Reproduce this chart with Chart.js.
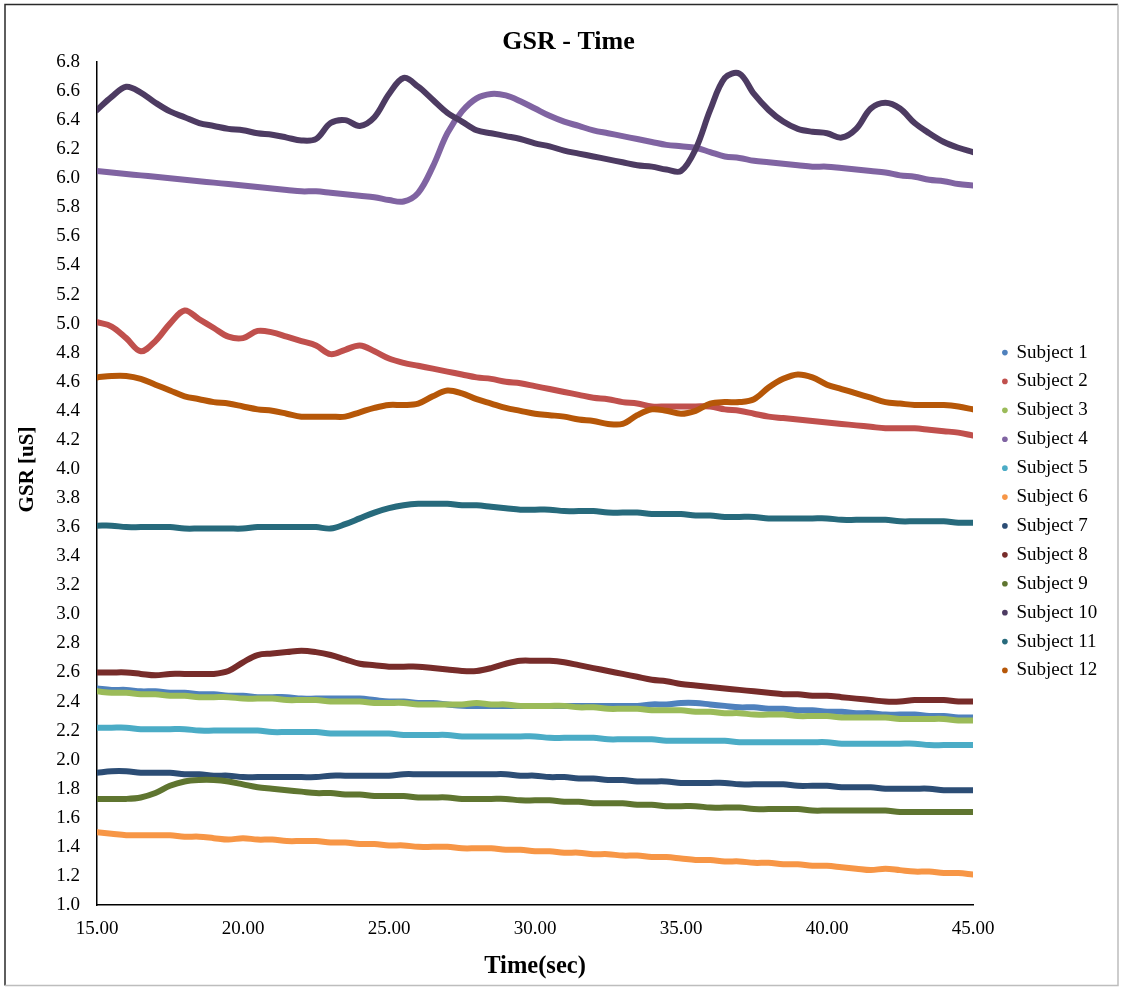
<!DOCTYPE html>
<html>
<head>
<meta charset="utf-8">
<script src="https://cdn.jsdelivr.net/npm/chart.js@4.4.0/dist/chart.umd.min.js"></script>
<style>
html,body{margin:0;padding:0;background:#fff;}
canvas{display:block;}
</style>
</head>
<body>
<canvas id="c" width="1123" height="987"></canvas>
<script>
// ---- data ----
const timeSec = [15,15.5,16,16.5,17,17.5,18,18.5,19,19.5,
  20,20.5,21,21.5,22,22.5,23,23.5,24,24.5,
  25,25.5,26,26.5,27,27.5,28,28.5,29,29.5,
  30,30.5,31,31.5,32,32.5,33,33.5,34,34.5,
  35,35.5,36,36.5,37,37.5,38,38.5,39,39.5,
  40,40.5,41,41.5,42,42.5,43,43.5,44,44.5,
  45];

const subject1 = [2.49,2.48,2.48,2.47,2.47,2.46,2.46,2.45,2.45,2.44,
  2.44,2.43,2.43,2.43,2.42,2.42,2.42,2.42,2.42,2.41,
  2.40,2.40,2.39,2.39,2.38,2.37,2.37,2.37,2.37,2.37,
  2.37,2.37,2.37,2.37,2.37,2.37,2.37,2.37,2.38,2.38,
  2.39,2.39,2.38,2.37,2.36,2.36,2.35,2.35,2.34,2.34,
  2.33,2.33,2.32,2.32,2.31,2.31,2.31,2.30,2.30,2.29,
  2.29];
const subject2 = [5.01,4.98,4.90,4.81,4.88,5.00,5.09,5.03,4.97,4.91,
  4.90,4.95,4.94,4.91,4.88,4.85,4.79,4.82,4.85,4.81,
  4.76,4.73,4.71,4.69,4.67,4.65,4.63,4.62,4.60,4.59,
  4.57,4.55,4.53,4.51,4.49,4.48,4.46,4.45,4.43,4.43,
  4.43,4.43,4.43,4.41,4.40,4.38,4.36,4.35,4.34,4.33,
  4.32,4.31,4.30,4.29,4.28,4.28,4.28,4.27,4.26,4.25,
  4.23];
const subject3 = [2.47,2.46,2.46,2.45,2.45,2.44,2.44,2.43,2.43,2.43,
  2.42,2.42,2.42,2.41,2.41,2.41,2.40,2.40,2.40,2.39,
  2.39,2.39,2.38,2.38,2.38,2.38,2.39,2.38,2.38,2.37,
  2.37,2.37,2.37,2.36,2.36,2.35,2.35,2.35,2.34,2.34,
  2.34,2.33,2.33,2.32,2.32,2.31,2.31,2.31,2.30,2.30,
  2.30,2.29,2.29,2.29,2.29,2.28,2.28,2.28,2.28,2.27,
  2.27];
const subject4 = [6.05,6.04,6.03,6.02,6.01,6.00,5.99,5.98,5.97,5.96,
  5.95,5.94,5.93,5.92,5.91,5.91,5.90,5.89,5.88,5.87,
  5.85,5.84,5.90,6.08,6.31,6.46,6.55,6.58,6.57,6.53,
  6.48,6.43,6.39,6.36,6.33,6.31,6.29,6.27,6.25,6.23,
  6.22,6.21,6.18,6.15,6.14,6.12,6.11,6.10,6.09,6.08,
  6.08,6.07,6.06,6.05,6.04,6.02,6.01,5.99,5.98,5.96,
  5.95];
const subject5 = [2.22,2.22,2.22,2.21,2.21,2.21,2.21,2.20,2.20,2.20,
  2.20,2.20,2.19,2.19,2.19,2.19,2.18,2.18,2.18,2.18,
  2.18,2.17,2.17,2.17,2.17,2.16,2.16,2.16,2.16,2.16,
  2.16,2.15,2.15,2.15,2.15,2.14,2.14,2.14,2.14,2.13,
  2.13,2.13,2.13,2.13,2.12,2.12,2.12,2.12,2.12,2.12,
  2.12,2.11,2.11,2.11,2.11,2.11,2.11,2.10,2.10,2.10,
  2.10];
const subject6 = [1.50,1.49,1.48,1.48,1.48,1.48,1.47,1.47,1.46,1.45,
  1.46,1.45,1.45,1.44,1.44,1.44,1.43,1.43,1.42,1.42,
  1.41,1.41,1.40,1.40,1.40,1.39,1.39,1.39,1.38,1.38,
  1.37,1.37,1.36,1.36,1.35,1.35,1.34,1.34,1.33,1.33,
  1.32,1.31,1.31,1.30,1.30,1.29,1.29,1.28,1.28,1.27,
  1.27,1.26,1.25,1.24,1.25,1.24,1.23,1.23,1.22,1.22,
  1.21];
const subject7 = [1.91,1.92,1.92,1.91,1.91,1.91,1.90,1.90,1.89,1.89,
  1.88,1.88,1.88,1.88,1.88,1.88,1.89,1.89,1.89,1.89,
  1.89,1.90,1.90,1.90,1.90,1.90,1.90,1.90,1.90,1.89,
  1.89,1.88,1.88,1.87,1.87,1.86,1.86,1.85,1.85,1.85,
  1.84,1.84,1.84,1.84,1.83,1.83,1.83,1.83,1.82,1.82,
  1.82,1.81,1.81,1.81,1.80,1.80,1.80,1.80,1.79,1.79,
  1.79];
const subject8 = [2.60,2.60,2.60,2.59,2.58,2.59,2.59,2.59,2.59,2.61,
  2.67,2.72,2.73,2.74,2.75,2.74,2.72,2.69,2.66,2.65,
  2.64,2.64,2.64,2.63,2.62,2.61,2.61,2.63,2.66,2.68,
  2.68,2.68,2.67,2.65,2.63,2.61,2.59,2.57,2.55,2.54,
  2.52,2.51,2.50,2.49,2.48,2.47,2.46,2.45,2.45,2.44,
  2.44,2.43,2.42,2.41,2.40,2.40,2.41,2.41,2.41,2.40,
  2.40];
const subject9 = [1.73,1.73,1.73,1.74,1.77,1.82,1.85,1.86,1.86,1.85,
  1.83,1.81,1.80,1.79,1.78,1.77,1.77,1.76,1.76,1.75,
  1.75,1.75,1.74,1.74,1.74,1.73,1.73,1.73,1.73,1.72,
  1.72,1.72,1.71,1.71,1.70,1.70,1.70,1.69,1.69,1.68,
  1.68,1.68,1.67,1.67,1.67,1.66,1.66,1.66,1.66,1.65,
  1.65,1.65,1.65,1.65,1.65,1.64,1.64,1.64,1.64,1.64,
  1.64];
const subject10 = [6.47,6.56,6.63,6.59,6.52,6.46,6.42,6.38,6.36,6.34,
  6.33,6.31,6.30,6.28,6.26,6.27,6.38,6.40,6.36,6.42,
  6.58,6.69,6.63,6.54,6.45,6.39,6.33,6.31,6.29,6.27,
  6.24,6.22,6.19,6.17,6.15,6.13,6.11,6.09,6.08,6.06,
  6.05,6.20,6.47,6.69,6.72,6.58,6.47,6.39,6.34,6.32,
  6.31,6.28,6.34,6.48,6.52,6.48,6.38,6.31,6.25,6.21,
  6.18];
const subject11 = [3.61,3.61,3.60,3.60,3.60,3.60,3.59,3.59,3.59,3.59,
  3.59,3.60,3.60,3.60,3.60,3.60,3.59,3.62,3.66,3.70,
  3.73,3.75,3.76,3.76,3.76,3.75,3.75,3.74,3.73,3.72,
  3.72,3.72,3.71,3.71,3.71,3.70,3.70,3.70,3.69,3.69,
  3.69,3.68,3.68,3.67,3.67,3.67,3.66,3.66,3.66,3.66,
  3.66,3.65,3.65,3.65,3.65,3.64,3.64,3.64,3.64,3.63,
  3.63];
const subject12 = [4.63,4.64,4.64,4.62,4.58,4.54,4.50,4.48,4.46,4.45,
  4.43,4.41,4.40,4.38,4.36,4.36,4.36,4.36,4.39,4.42,
  4.44,4.44,4.45,4.50,4.54,4.52,4.48,4.45,4.42,4.40,
  4.38,4.37,4.36,4.34,4.33,4.31,4.31,4.37,4.41,4.40,
  4.38,4.40,4.45,4.46,4.46,4.48,4.56,4.62,4.65,4.63,
  4.58,4.55,4.52,4.49,4.46,4.45,4.44,4.44,4.44,4.43,
  4.41];

const seriesNames = ['Subject 1','Subject 2','Subject 3','Subject 4','Subject 5','Subject 6',
  'Subject 7','Subject 8','Subject 9','Subject 10','Subject 11','Subject 12'];
const seriesColors = ['#4F81BD','#C0504D','#9BBB59','#8064A2','#4BACC6','#F79646',
  '#2C4D75','#772C2A','#5F7530','#4D3B62','#276A7C','#B65708'];
const xTickValues = [15,20,25,30,35,40,45];
const yTickValues = [1.0,1.2,1.4,1.6,1.8,2.0,2.2,2.4,2.6,2.8,3.0,3.2,3.4,3.6,3.8,4.0,
  4.2,4.4,4.6,4.8,5.0,5.2,5.4,5.6,5.8,6.0,6.2,6.4,6.6,6.8];

// ---- chart ----
const SERIF = '"Liberation Serif", "Times New Roman", Times, serif';
Chart.defaults.font.family = SERIF;
Chart.defaults.color = '#000';

const allSeries = [subject1,subject2,subject3,subject4,subject5,subject6,
  subject7,subject8,subject9,subject10,subject11,subject12];

const datasets = allSeries.map((vals, i) => ({
  label: seriesNames[i],
  data: vals.map((v, j) => ({x: timeSec[j], y: v})),
  borderColor: seriesColors[i],
  backgroundColor: seriesColors[i],
  borderWidth: 6,
  pointRadius: 0,
  pointHoverRadius: 0,
  tension: 0.35,
  borderCapStyle: 'round',
  borderJoinStyle: 'round',
  fill: false,
  order: allSeries.length - i
}));

const framePlugin = {
  id: 'frame',
  beforeDraw(chart) {
    const ctx = chart.ctx;
    ctx.save();
    ctx.fillStyle = '#fff';
    ctx.fillRect(0, 0, chart.width, chart.height);
    ctx.lineWidth = 1.5;
    ctx.strokeStyle = '#2a2a2a';
    ctx.beginPath();
    ctx.moveTo(5, 985.5); ctx.lineTo(5, 4.5); ctx.lineTo(1118, 4.5);
    ctx.stroke();
    ctx.strokeStyle = '#bdbdbd';
    ctx.beginPath();
    ctx.moveTo(1118, 4.5); ctx.lineTo(1118, 985.5); ctx.lineTo(5, 985.5);
    ctx.stroke();
    ctx.restore();
  }
};

const legendPlace = {
  id: 'legendPlace',
  beforeLayout(chart) {
    const lg = chart.legend;
    if (lg && !lg.__wrapped) {
      const orig = lg.fit;
      lg.fit = function() { orig.call(this); this.width = 150; };
      lg.__wrapped = true;
    }
  },
  afterLayout(chart) {
    const lg = chart.legend;
    if (lg) {
      lg.left += 20; lg.right += 20;
      lg.top += 18; lg.bottom += 18;
    }
    // the y-axis title sits a little above the middle of the axis in the reference
    const ys = chart.scales.y;
    if (ys && !ys.__titleShift) {
      const origTitle = ys.drawTitle;
      ys.drawTitle = function() {
        this.ctx.save();
        this.ctx.translate(0, -14);
        origTitle.call(this);
        this.ctx.restore();
      };
      ys.__titleShift = true;
    }
  }
};

new Chart(document.getElementById('c'), {
  type: 'line',
  data: { datasets },
  plugins: [framePlugin, legendPlace],
  options: {
    responsive: false,
    animation: false,
    events: [],
    layout: { padding: { top: 4, left: 14, right: 0, bottom: 4 } },
    plugins: {
      title: {
        display: true,
        text: 'GSR - Time',
        color: '#000',
        font: { size: 26, weight: 'bold', family: SERIF },
        padding: { top: 22.4, bottom: 4.4 }
      },
      legend: {
        position: 'right',
        align: 'center',
        labels: {
          usePointStyle: true,
          pointStyle: 'circle',
          boxWidth: 4,
          boxHeight: 4,
          padding: 9.9,
          color: '#000',
          font: { size: 19, family: SERIF },
          sort: (a, b) => a.datasetIndex - b.datasetIndex,
          generateLabels(chart) {
            const items = Chart.defaults.plugins.legend.labels.generateLabels(chart);
            items.forEach(it => {
              it.lineWidth = 0;
              it.pointStyle = 'circle';
              it.fillStyle = seriesColors[it.datasetIndex];
              it.strokeStyle = seriesColors[it.datasetIndex];
            });
            return items;
          }
        }
      },
      tooltip: { enabled: false }
    },
    scales: {
      x: {
        type: 'linear',
        min: 15, max: 45,
        afterBuildTicks: s => { s.ticks = xTickValues.map(v => ({ value: v })); },
        afterFit: s => { s.height = 78; },
        ticks: {
          callback: v => Number(v).toFixed(2),
          padding: 12.6,
          autoSkip: false,
          maxRotation: 0,
          color: '#000',
          font: { size: 19, family: SERIF }
        },
        grid: { display: false, drawTicks: false },
        border: { display: true, color: '#000', width: 1.5 },
        title: {
          display: true,
          text: 'Time(sec)',
          color: '#000',
          font: { size: 24.5, weight: 'bold', family: SERIF },
          padding: { top: 0, bottom: 1.6 }
        }
      },
      y: {
        type: 'linear',
        min: 1.0, max: 6.8,
        afterBuildTicks: s => { s.ticks = yTickValues.map(v => ({ value: v })); },
        afterFit: s => { s.width = 83; },
        ticks: {
          callback: v => Number(v).toFixed(1),
          padding: 17,
          autoSkip: false,
          color: '#000',
          font: { size: 19, family: SERIF }
        },
        grid: { display: false, drawTicks: false },
        border: { display: true, color: '#000', width: 1.5 },
        title: {
          display: true,
          text: 'GSR [uS]',
          color: '#000',
          font: { size: 21, weight: 'bold', family: SERIF },
          padding: { top: 1, bottom: 0 }
        }
      }
    }
  }
});
</script>
</body>
</html>
